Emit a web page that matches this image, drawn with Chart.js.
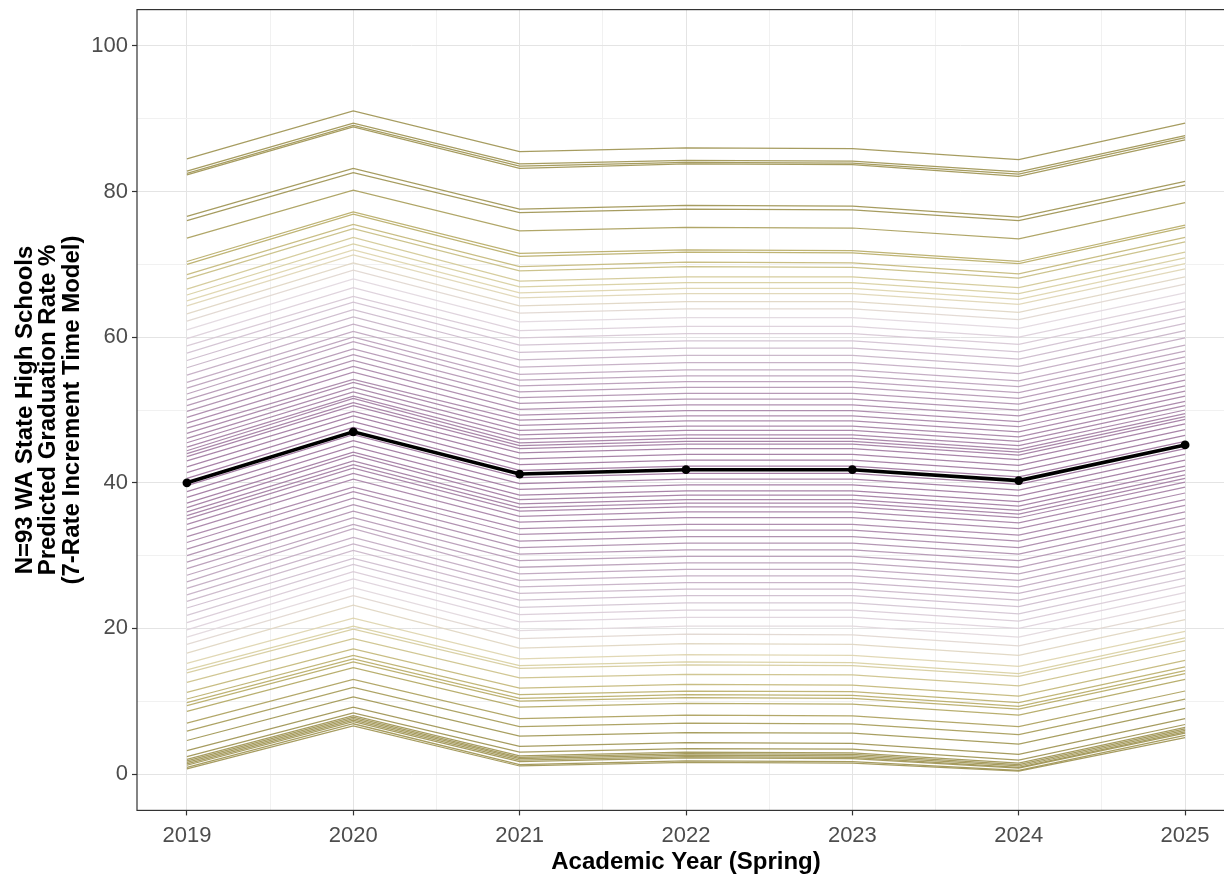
<!DOCTYPE html>
<html>
<head>
<meta charset="utf-8">
<script src="https://cdn.jsdelivr.net/npm/chart.js@4.4.1/dist/chart.umd.min.js"></script>
<style>
  html, body { margin: 0; padding: 0; background: #ffffff; overflow: hidden; width: 1224px; height: 884px; }
  canvas { display: block; }
</style>
</head>
<body>
<canvas id="chart" width="1240" height="884"></canvas>
<script>
// Academic years (spring) on the x axis
const years = [2019, 2020, 2021, 2022, 2023, 2024, 2025];
// Labelled rate ticks and the full set of horizontal grid lines (major + minor)
const yTickValues = [0, 20, 40, 60, 80, 100];
const yGridValues = [0, 10, 20, 30, 40, 50, 60, 70, 80, 90, 100];

// Predicted graduation rate (%) per school, one array per year, same school order in each
const rate2019 = [84.5, 82.8, 82.5, 82.3, 76.6, 76.0, 73.6, 70.4, 70.0, 68.6, 68.0, 66.6, 65.8, 65.0, 64.3, 63.2, 62.2, 61.0, 59.8, 58.8, 57.8, 56.8, 55.8, 54.8, 53.8, 53.0, 52.2, 51.4, 50.6, 49.8, 49.0, 48.2, 47.5, 46.8, 46.1, 45.5, 44.9, 44.4, 44.0, 43.6, 43.0, 42.2, 41.4, 40.6, 39.6, 38.8, 38.0, 37.2, 36.6, 36.0, 35.5, 35.0, 34.3, 33.5, 32.6, 31.8, 30.9, 30.0, 29.1, 28.2, 27.3, 26.4, 25.5, 24.6, 23.7, 22.8, 21.8, 20.8, 19.8, 18.8, 17.8, 16.6, 15.2, 14.3, 13.9, 12.6, 11.2, 10.3, 9.8, 9.4, 8.6, 7.0, 5.9, 4.6, 3.2, 2.4, 2.0, 1.8, 1.6, 1.4, 1.2, 0.9, 0.7];
const rate2020 = [91.1, 89.4, 89.1, 88.9, 83.2, 82.6, 80.2, 77.2, 76.9, 75.5, 74.9, 73.7, 72.8, 72.0, 71.3, 70.2, 69.2, 68.0, 66.8, 65.6, 64.8, 63.8, 62.8, 61.8, 60.8, 60.0, 59.4, 58.4, 57.6, 56.8, 56.0, 55.2, 54.2, 53.8, 53.1, 52.5, 51.9, 51.6, 51.0, 50.6, 49.8, 49.2, 48.4, 47.6, 46.6, 45.8, 45.0, 44.2, 43.8, 43.0, 42.5, 42.0, 41.3, 40.5, 39.4, 38.8, 37.9, 37.0, 36.1, 35.2, 34.3, 33.7, 32.5, 31.6, 30.7, 29.6, 28.8, 27.8, 26.8, 25.6, 24.5, 23.2, 21.4, 20.3, 19.9, 18.6, 17.2, 16.3, 15.8, 15.4, 14.6, 13.0, 11.9, 10.6, 9.2, 8.4, 8.0, 7.8, 7.6, 7.4, 7.2, 6.9, 6.6];
const rate2021 = [85.5, 83.8, 83.5, 83.2, 77.6, 77.1, 74.6, 71.5, 71.1, 69.7, 69.1, 67.7, 66.9, 66.1, 65.4, 64.3, 63.3, 62.1, 60.9, 59.9, 58.9, 57.9, 56.9, 55.9, 54.9, 54.1, 53.3, 52.5, 51.7, 50.9, 50.1, 49.3, 48.6, 47.9, 47.2, 46.6, 46.0, 45.5, 45.1, 44.7, 44.1, 43.3, 42.5, 41.7, 40.7, 39.9, 39.1, 38.3, 37.7, 37.1, 36.6, 36.1, 35.4, 34.6, 33.7, 32.9, 32.0, 31.1, 30.2, 29.3, 28.4, 27.5, 26.6, 25.7, 24.8, 23.9, 22.9, 21.9, 20.9, 19.7, 18.6, 17.3, 15.8, 14.9, 14.5, 13.2, 11.8, 10.9, 10.4, 10.0, 9.2, 7.6, 6.5, 5.2, 3.8, 3.0, 2.5, 2.3, 2.1, 1.9, 1.7, 1.3, 1.1];
const rate2022 = [86.0, 84.3, 84.0, 83.8, 78.1, 77.6, 75.1, 72.0, 71.7, 70.3, 69.7, 68.3, 67.5, 66.7, 66.0, 64.9, 63.9, 62.7, 61.5, 60.5, 59.5, 58.5, 57.5, 56.5, 55.5, 54.7, 53.9, 53.1, 52.3, 51.5, 50.7, 49.9, 49.2, 48.5, 47.8, 47.2, 46.6, 46.1, 45.7, 45.3, 44.7, 43.9, 43.1, 42.3, 41.3, 40.5, 39.7, 38.9, 38.3, 37.7, 37.2, 36.7, 36.0, 35.2, 34.3, 33.5, 32.6, 31.7, 30.8, 29.9, 29.0, 28.1, 27.2, 26.3, 25.4, 24.5, 23.5, 22.5, 21.5, 20.3, 19.2, 17.9, 16.4, 15.4, 15.0, 13.7, 12.3, 11.4, 10.9, 10.5, 9.7, 8.1, 7.0, 5.7, 4.3, 3.5, 3.0, 2.8, 2.6, 2.4, 2.2, 1.8, 1.6];
const rate2023 = [85.9, 84.2, 83.9, 83.7, 78.0, 77.5, 75.0, 71.9, 71.6, 70.2, 69.6, 68.3, 67.5, 66.7, 66.0, 64.9, 63.9, 62.7, 61.5, 60.5, 59.5, 58.5, 57.5, 56.5, 55.5, 54.7, 53.9, 53.1, 52.3, 51.5, 50.7, 49.9, 49.2, 48.5, 47.8, 47.2, 46.6, 46.1, 45.7, 45.3, 44.7, 43.9, 43.1, 42.3, 41.3, 40.5, 39.7, 38.9, 38.3, 37.7, 37.2, 36.7, 36.0, 35.2, 34.3, 33.5, 32.6, 31.7, 30.8, 29.9, 29.0, 28.1, 27.2, 26.3, 25.4, 24.5, 23.5, 22.5, 21.5, 20.3, 19.1, 17.8, 16.3, 15.3, 14.9, 13.6, 12.2, 11.3, 10.8, 10.4, 9.6, 8.0, 6.9, 5.6, 4.2, 3.4, 2.9, 2.7, 2.5, 2.3, 2.1, 1.7, 1.5];
const rate2024 = [84.4, 82.7, 82.4, 82.1, 76.5, 76.0, 73.5, 70.4, 70.1, 68.7, 68.1, 66.8, 66.0, 65.2, 64.5, 63.4, 62.4, 61.2, 60.0, 59.0, 58.0, 57.0, 56.0, 55.0, 54.0, 53.2, 52.4, 51.6, 50.8, 50.0, 49.2, 48.4, 47.7, 47.0, 46.3, 45.7, 45.1, 44.6, 44.2, 43.8, 43.2, 42.4, 41.6, 40.8, 39.8, 39.0, 38.2, 37.4, 36.8, 36.2, 35.7, 35.2, 34.5, 33.7, 32.8, 32.0, 31.1, 30.2, 29.3, 28.4, 27.5, 26.6, 25.7, 24.8, 23.9, 23.0, 22.0, 21.0, 20.0, 18.8, 17.6, 16.3, 14.8, 13.8, 13.4, 12.1, 10.7, 9.8, 9.3, 8.9, 8.1, 6.5, 5.4, 4.1, 2.7, 1.9, 1.5, 1.3, 1.1, 0.9, 0.8, 0.5, 0.4];
const rate2025 = [89.4, 87.7, 87.4, 87.1, 81.4, 80.9, 78.5, 75.4, 75.1, 73.7, 73.1, 71.7, 70.9, 70.1, 69.4, 68.3, 67.3, 66.1, 64.9, 63.9, 62.9, 61.9, 60.9, 59.9, 58.9, 58.1, 57.3, 56.5, 55.7, 54.9, 54.1, 53.3, 52.6, 51.9, 51.2, 50.6, 50.0, 49.5, 49.1, 48.7, 48.1, 47.3, 46.5, 45.7, 44.7, 43.9, 43.1, 42.3, 41.7, 41.1, 40.6, 40.1, 39.4, 38.6, 37.7, 36.9, 36.0, 35.1, 34.2, 33.3, 32.4, 31.5, 30.6, 29.7, 28.8, 27.9, 26.9, 25.9, 24.9, 23.7, 22.5, 21.2, 19.6, 18.7, 18.3, 17.0, 15.6, 14.7, 14.2, 13.8, 13.0, 11.4, 10.3, 9.0, 7.6, 6.8, 6.4, 6.2, 6.0, 5.8, 5.6, 5.3, 5.0];

// Average trajectory across all schools
const meanRate = [40.0, 47.0, 41.2, 41.8, 41.8, 40.3, 45.2];

const ratesByYear = [rate2019, rate2020, rate2021, rate2022, rate2023, rate2024, rate2025];

// Line colour by a school's distance from the central rate: mauve near the middle,
// fading to pale, then olive gold at both extremes.
const centreRate = 40;
const colourStops = [
  [0,  [158, 116, 158]],
  [9,  [170, 136, 170]],
  [16, [200, 180, 200]],
  [21, [226, 216, 224]],
  [25, [222, 213, 172]],
  [30, [186, 174, 104]],
  [36, [158, 148, 82]]
];
function schoolColour(v) {
  const d = Math.abs(v - centreRate);
  let c = colourStops[colourStops.length - 1][1];
  for (let k = 0; k < colourStops.length - 1; k++) {
    const [d0, c0] = colourStops[k];
    const [d1, c1] = colourStops[k + 1];
    if (d >= d0 && d <= d1) {
      const t = (d - d0) / (d1 - d0);
      c = c0.map((x, i) => Math.round(x + (c1[i] - x) * t));
      break;
    }
  }
  return `rgba(${c[0]},${c[1]},${c[2]},0.92)`;
}

const schoolDatasets = rate2019.map((v, i) => ({
  label: 'School ' + (i + 1),
  data: years.map((yr, j) => ({ x: yr, y: ratesByYear[j][i] })),
  borderColor: schoolColour(v),
  borderWidth: 1.25,
  pointRadius: 0,
  fill: false,
  tension: 0,
  order: 1
}));

const meanDataset = {
  label: 'Mean',
  data: years.map((yr, j) => ({ x: yr, y: meanRate[j] })),
  borderColor: '#000000',
  backgroundColor: '#000000',
  borderWidth: 3.6,
  pointRadius: 4.4,
  pointBorderWidth: 0,
  fill: false,
  tension: 0,
  order: 0
};

// Frame around the plotting panel
const panelBorder = {
  id: 'panelBorder',
  afterDatasetsDraw(chart) {
    const { ctx, chartArea: a } = chart;
    ctx.save();
    ctx.strokeStyle = '#333333';
    ctx.lineWidth = 1.2;
    ctx.strokeRect(a.left, a.top, a.right - a.left, a.bottom - a.top);
    ctx.restore();
  }
};

const isMajorX = v => Number.isInteger(v);
const isMajorY = v => yTickValues.includes(v);
const fontFamily = '"Liberation Sans", Arial, sans-serif';

new Chart(document.getElementById('chart'), {
  type: 'line',
  data: { datasets: [meanDataset, ...schoolDatasets] },
  options: {
    responsive: false,
    animation: false,
    devicePixelRatio: 1,
    layout: { padding: { top: 9.6, right: 5, left: 0, bottom: 0 } },
    plugins: { legend: { display: false }, tooltip: { enabled: false } },
    scales: {
      x: {
        type: 'linear',
        min: 2018.7,
        max: 2025.3,
        afterFit(scale) {
          scale.height = 73.6;
          scale.paddingLeft = 0;
          scale.paddingRight = 0;
        },
        border: { display: false },
        grid: {
          color: c => isMajorX(c.tick.value) ? '#e4e4e4' : '#f1f1f1',
          lineWidth: 1,
          tickLength: 5,
          tickColor: c => isMajorX(c.tick.value) ? '#333333' : 'rgba(0,0,0,0)',
          tickWidth: 1.2
        },
        ticks: {
          stepSize: 0.5,
          includeBounds: false,
          autoSkip: false,
          maxRotation: 0,
          padding: 7,
          color: '#4d4d4d',
          font: { family: fontFamily, size: 22 },
          callback: v => years.includes(v) ? String(v) : ''
        },
        title: {
          display: true,
          text: 'Academic Year (Spring)',
          color: '#000000',
          padding: { top: 0, bottom: 7.5 },
          font: { family: fontFamily, size: 24, weight: 'bold', lineHeight: 1.2 }
        }
      },
      y: {
        type: 'linear',
        min: -5,
        max: 105,
        afterBuildTicks(scale) {
          scale.ticks = yGridValues.map(v => ({ value: v }));
        },
        afterFit(scale) {
          scale.width = 137;
          scale.paddingTop = 0;
          scale.paddingBottom = 0;
        },
        border: { display: false },
        grid: {
          color: c => isMajorY(c.tick.value) ? '#e4e4e4' : '#f1f1f1',
          lineWidth: 1,
          tickLength: 5,
          tickColor: c => isMajorY(c.tick.value) ? '#333333' : 'rgba(0,0,0,0)',
          tickWidth: 1.2
        },
        ticks: {
          autoSkip: false,
          padding: 4,
          color: '#4d4d4d',
          font: { family: fontFamily, size: 22 },
          callback: v => yTickValues.includes(v) ? String(v) : ''
        },
        title: {
          display: true,
          text: ['N=93 WA State High Schools', 'Predicted Graduation Rate %', '(7-Rate Increment Time Model)'],
          color: '#000000',
          padding: { top: 13.25, bottom: 0 },
          font: { family: fontFamily, size: 24, weight: 'bold', lineHeight: 0.98 }
        }
      }
    }
  },
  plugins: [panelBorder]
});
</script>
</body>
</html>
